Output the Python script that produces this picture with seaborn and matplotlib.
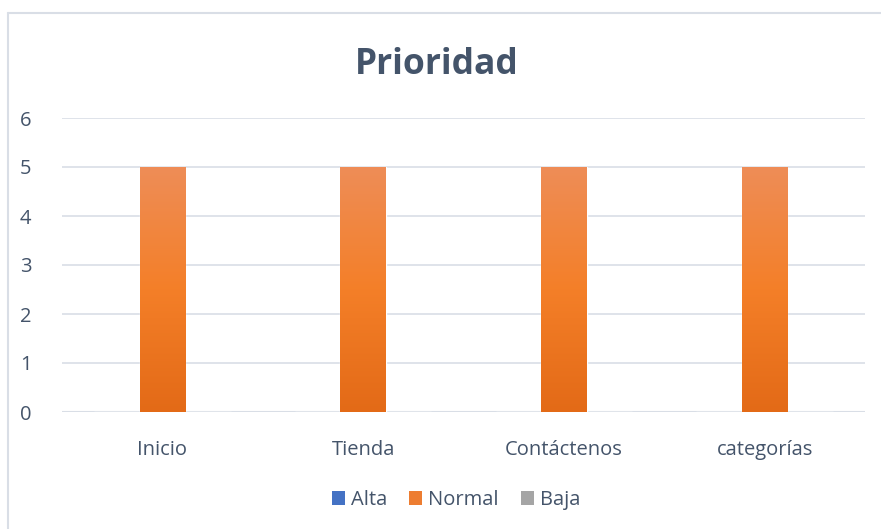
import numpy as np
import pandas as pd
import matplotlib
matplotlib.use("Agg")
import matplotlib.pyplot as plt
from matplotlib.lines import Line2D
from matplotlib.patches import Patch
import seaborn as sns

# data
categorias = ["Inicio", "Tienda", "Contáctenos", "categorías"]
series = ["Alta", "Normal", "Baja"]
alta = [0, 0, 0, 0]
normal = [5, 5, 5, 5]
baja = [0, 0, 0, 0]
colores = ["#4472C4", "#ED7D31", "#A5A5A5"]

df = pd.DataFrame({
    "categoria": categorias * 3,
    "serie": ["Alta"] * 4 + ["Normal"] * 4 + ["Baja"] * 4,
    "valor": alta + normal + baja,
})

sns.set_style("white")
plt.rcParams['font.family'] = ['Open Sans', 'DejaVu Sans']

W, H = 881, 529
fig = plt.figure(figsize=(W / 100, H / 100), dpi=100)
ax = fig.add_axes([62 / W, 1 - 412 / H, (865 - 62) / W, (412 - 118) / H])

sns.barplot(data=df, x="categoria", y="valor", hue="serie", hue_order=series,
            palette=colores, width=0.68, ax=ax, legend=False, saturation=1)

# gradiente en las barras
grad = np.linspace(0, 1, 256).reshape(-1, 1)
cmap = matplotlib.colors.LinearSegmentedColormap.from_list("g", ["#E36A17", "#F47F28", "#EE8D57"])
for p in ax.patches:
    h = p.get_height()
    if h > 0:
        x0 = p.get_x()
        im = ax.imshow(grad, cmap=cmap, aspect="auto", origin="lower",
                       extent=[x0, x0 + p.get_width(), 0, h], zorder=p.get_zorder())
        im.set_clip_path(p)

ax.set_xlim(-0.5, 3.5)
ax.set_ylim(0, 6)
ax.set_yticks(range(0, 7))
ax.grid(axis="y", color="#D9DEE6", linewidth=1.2)
ax.set_axisbelow(True)
for s in ax.spines.values():
    s.set_visible(False)
ax.axhline(0, color="#D9DEE6", linewidth=1.5, zorder=0.5)
ax.tick_params(axis="both", length=0, labelsize=14.5, colors="#44546A")
ax.tick_params(axis="y", pad=22)
ax.tick_params(axis="x", pad=20)
ax.set_xlabel("")
ax.set_ylabel("")

fig.text(437 / W, 1 - 65 / H, "Prioridad", ha="center", va="center",
         fontsize=25.5, fontweight="bold", color="#44546A")

handles = [Patch(facecolor=c, edgecolor="none") for c in colores]
fig.legend(handles, series, loc="center", bbox_to_anchor=(456 / W, 1 - 500 / H),
           ncol=3, frameon=False, fontsize=14.5, handlelength=0.65, handleheight=0.65,
           handletextpad=0.3, columnspacing=1.1, labelcolor="#44546A")

# borde del gráfico
fig.add_artist(Line2D([8 / W, 8 / W], [0, 1 - 13 / H], color="#D9DEE6", linewidth=1.5))
fig.add_artist(Line2D([8 / W, 1], [1 - 13 / H, 1 - 13 / H], color="#D9DEE6", linewidth=1.5))

fig.savefig("out.png", dpi=100)
